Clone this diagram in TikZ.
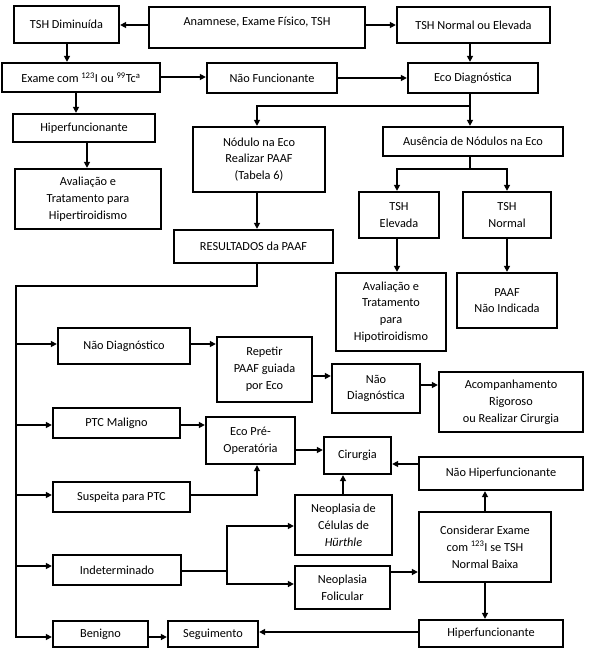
\documentclass[tikz,border=0pt]{standalone}
\usepackage{fontspec}
\setmainfont{Carlito}
\usetikzlibrary{arrows.meta}
\newcommand{\bx}[7][]{%
  \node[bx,#1,minimum width={(#5)-(#3)},minimum height={(#6)-(#4)}] (#2) at ({((#3)+(#5))/2},{((#4)+(#6))/2}) {#7};}
\begin{document}
\begin{tikzpicture}[x=1pt,y=-1pt,
  bx/.style={draw,line width=2.3pt,fill=white,inner sep=1pt,align=center,font=\fontsize{12.3}{16.8}\selectfont},
  arr/.style={line width=1.9pt,-{Triangle[length=6pt,width=6pt]}},
  ln/.style={line width=1.9pt}]
\useasboundingbox (0,0) rectangle (591,651);
\bx{tshd}{14}{6}{119}{43}{TSH Diminuída}
\bx{anam}{149}{7}{365}{48}{\raisebox{5pt}[\height][\depth]{Anamnese, Exame Físico, TSH}}
\bx{tshn}{397}{7}{550}{43}{TSH Normal ou Elevada}
\bx{exame}{2}{63}{160}{92}{Exame com \textsuperscript{123}I ou \textsuperscript{99}Tc\textsuperscript{a}}
\bx{naof}{207}{63}{337}{93}{Não Funcionante}
\bx{eco}{408}{63}{538}{93}{Eco Diagnóstica}
\bx{hipa}{13}{114}{155}{142}{Hiperfuncionante}
\bx{avala}{15}{169}{161}{229}{Avaliação e\\Tratamento para\\Hipertiroidismo}
\bx{nod}{193}{127}{325}{192}{Nódulo na Eco\\Realizar PAAF\\(Tabela 6)}
\bx{aus}{383}{127}{563}{156}{Ausência de Nódulos na Eco}
\bx{tshe}{359}{192}{439}{238}{TSH\\Elevada}
\bx{tshno}{463}{192}{551}{238}{TSH\\Normal}
\bx{res}{174}{230}{333}{263}{RESULTADOS da PAAF}
\bx{avh}{336}{273}{446}{351}{Avaliação e\\Tratamento\\para\\Hipotiroidismo}
\bx{paafni}{457}{273}{557}{328}{PAAF\\Não Indicada}
\bx{naod}{58}{328}{190}{364}{Não Diagnóstico}
\bx{rep}{217}{337}{312}{402}{Repetir\\PAAF guiada\\por Eco}
\bx{naodg}{332}{364}{420}{413}{Não\\Diagnóstica}
\bx{acomp}{439}{372}{583}{432}{Acompanhamento\\Rigoroso\\ou Realizar Cirurgia}
\bx{ptc}{53}{408}{180}{438}{PTC Maligno}
\bx{ecopre}{206}{417}{295}{464}{Eco Pré-\\Operatória}
\bx{cir}{324}{437}{391}{474}{Cirurgia}
\bx{naoh}{419}{457}{583}{490}{Não Hiperfuncionante}
\bx{susp}{53}{482}{190}{512}{Suspeita para PTC}
\bx{hur}{295}{495}{392}{555}{Neoplasia de\\Células de\\\textit{Hürthle}}
\bx{cons}{419}{512}{551}{582}{Considerar Exame\\com \textsuperscript{123}I se TSH\\Normal Baixa}
\bx{indet}{53}{555}{181}{585}{Indeterminado}
\bx{fol}{295}{566}{390}{609}{Neoplasia\\Folicular}
\bx{ben}{53}{621}{148}{647}{Benigno}
\bx{seg}{168}{621}{258}{647}{Seguimento}
\bx{hipb}{419}{620}{563}{647}{Hiperfuncionante}
% top
\draw[arr] (anam.west |- 0,25) -- (tshd.east |- 0,25);
\draw[arr] (anam.east |- 0,25) -- (tshn.west |- 0,25);
\draw[arr] (tshd.south -| 67,0) -- (exame.north -| 67,0);
\draw[arr] (exame.east |- 0,77) -- (naof.west |- 0,77);
\draw[arr] (exame.south -| 76,0) -- (hipa.north -| 76,0);
\draw[arr] (hipa.south -| 87,0) -- (avala.north -| 87,0);
\draw[arr] (tshn.south -| 470,0) -- (eco.north -| 470,0);
\draw[arr] (naof.east |- 0,78) -- (eco.west |- 0,78);
\draw[arr] (eco.south -| 470,0) -- (aus.north -| 470,0);
\draw[arr] (eco.south -| 470,0) -- (470,106) -- (257,106) -- (nod.north -| 257,0);
\draw[ln] (aus.south -| 470,0) -- (470,169);
\draw[arr] (470,169) -- (397,169) -- (tshe.north -| 397,0);
\draw[arr] (470,169) -- (507,169) -- (tshno.north -| 507,0);
\draw[arr] (tshe.south -| 397,0) -- (avh.north -| 397,0);
\draw[arr] (tshno.south -| 507,0) -- (paafni.north -| 507,0);
\draw[arr] (nod.south -| 257,0) -- (res.north -| 257,0);
% results bus
\draw[arr] (res.south -| 257,0) -- (257,286) -- (16,286) -- (16,637) -- (ben.west |- 0,637);
\draw[arr] (16,344) -- (naod.west |- 0,344);
\draw[arr] (16,425) -- (ptc.west |- 0,425);
\draw[arr] (16,495) -- (susp.west |- 0,495);
\draw[arr] (16,566) -- (indet.west |- 0,566);
\draw[arr] (naod.east |- 0,344) -- (rep.west |- 0,344);
\draw[arr] (rep.east |- 0,376) -- (naodg.west |- 0,376);
\draw[arr] (naodg.east |- 0,385) -- (acomp.west |- 0,385);
\draw[arr] (ptc.east |- 0,425) -- (ecopre.west |- 0,425);
\draw[arr] (susp.east |- 0,495) -- (257,495) -- (ecopre.south -| 257,0);
\draw[arr] (ecopre.east |- 0,450) -- (cir.west |- 0,450);
\draw[arr] (naoh.west |- 0,464) -- (cir.east |- 0,464);
\draw[arr] (hur.north -| 343,0) -- (cir.south -| 343,0);
\draw[arr] (cons.north -| 485,0) -- (naoh.south -| 485,0);
\draw[arr] (cons.south -| 485,0) -- (hipb.north -| 485,0);
\draw[arr] (fol.east |- 0,572) -- (cons.west |- 0,572);
\draw[ln] (indet.east |- 0,571) -- (227,571);
\draw[arr] (227,571) -- (227,526) -- (hur.west |- 0,526);
\draw[arr] (227,571) -- (227,584) -- (fol.west |- 0,584);
\draw[arr] (ben.east |- 0,637) -- (seg.west |- 0,637);
\draw[arr] (hipb.west |- 0,632) -- (seg.east |- 0,632);
\end{tikzpicture}
\end{document}
